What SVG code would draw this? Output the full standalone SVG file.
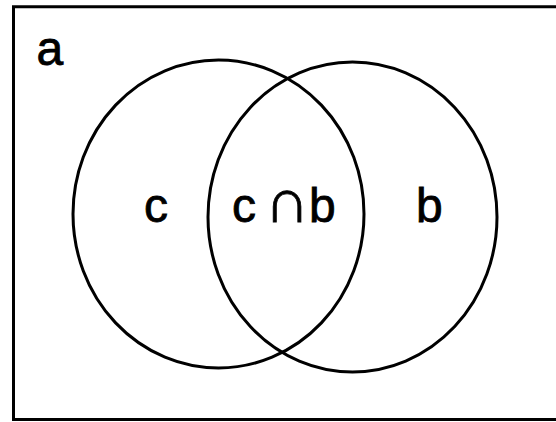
<svg xmlns="http://www.w3.org/2000/svg" width="556" height="422" viewBox="0 0 556 422">
<style>
.ln{fill:none;stroke:#000;stroke-width:3}
.t{font-family:"Liberation Sans",Arial,sans-serif;font-size:48px;fill:#000;stroke:#000;stroke-width:0.8}
.cap{font-size:62px}
</style>
<rect width="556" height="422" fill="#fff"/>
<g id="frame">
<path class="ln" d="M 560 6.7 H 13.5 V 419.5 H 560"/>
<text class="t" x="36.5" y="64.5">a</text>
</g>
<g id="setC">
<ellipse class="ln" cx="218.5" cy="214" rx="145.5" ry="154"/>
<text class="t" x="144" y="222">c</text>
</g>
<g id="setB">
<ellipse class="ln" cx="352.5" cy="217" rx="144.5" ry="155"/>
<text class="t" x="416" y="222">b</text>
</g>
<g id="intersection">
<text class="t" y="222"><tspan x="232">c</tspan><tspan class="cap" x="265">∩</tspan><tspan x="309">b</tspan></text>
</g>
</svg>
